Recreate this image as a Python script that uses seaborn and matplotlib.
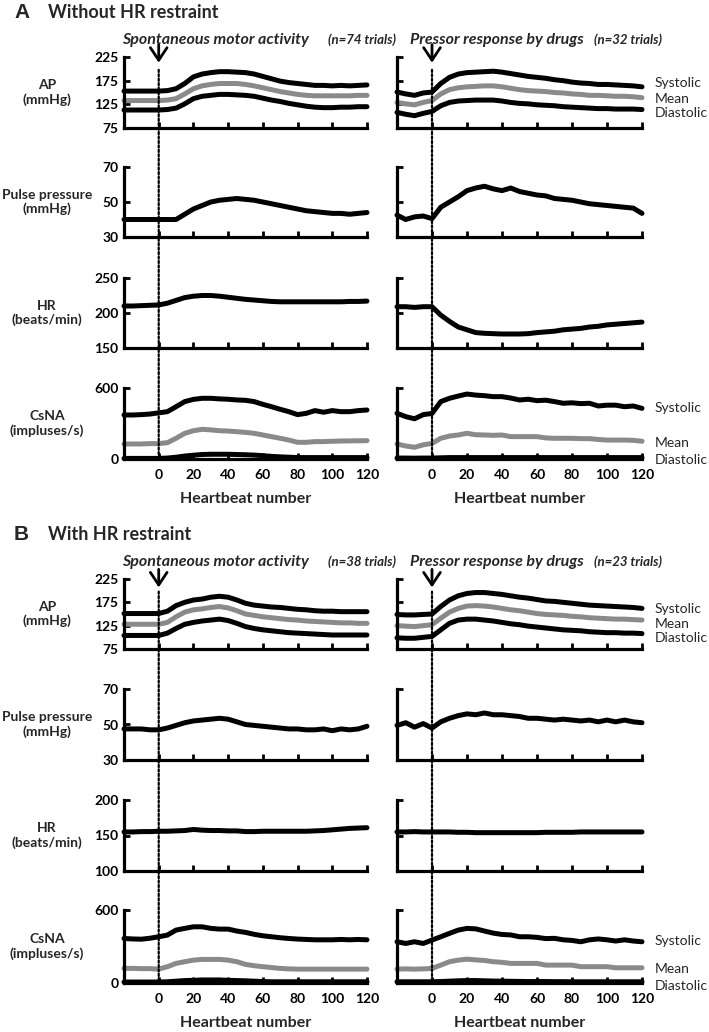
import numpy as np
import pandas as pd
import matplotlib.pyplot as plt
import seaborn as sns
from matplotlib.patches import ConnectionPatch

sns.set_style("white")
plt.rcParams['font.family'] = ['Lato', 'DejaVu Sans']

# heartbeat number (every 5 beats, -20 .. 120)
beats = list(range(-20, 121, 5))

# ---------- A: without HR restraint, spontaneous motor activity ----------
a_sma_ap_sys = [153, 153, 153, 153, 153, 154, 158, 169, 183, 189, 192, 194, 194, 193, 192, 189, 184, 179, 174, 171, 169, 167, 165, 165, 164, 165, 164, 165, 166]
a_sma_ap_mean = [133, 133, 133, 133, 133, 134, 137, 147, 158, 164, 167, 169, 169, 169, 167, 164, 160, 156, 152, 149, 146, 144, 143, 143, 143, 143, 143, 144, 144]
a_sma_ap_dia = [113, 113, 113, 113, 113, 114, 117, 126, 137, 142, 144, 146, 146, 145, 144, 142, 138, 134, 131, 127, 124, 121, 119, 118, 118, 119, 119, 120, 120]
a_sma_pp = [40, 40, 40, 40, 40, 40, 40, 43, 46, 48, 50, 51, 51.5, 52, 51.5, 51, 50, 49, 48, 47, 46, 45, 44.5, 44, 43.5, 43.5, 43, 43.5, 44]
a_sma_hr = [210, 210, 210.5, 211, 211.5, 214, 218, 222, 224, 225, 225, 224, 222.5, 221, 219.5, 218.5, 217.5, 216.5, 216, 216, 216, 216, 216, 216, 216, 216, 216.5, 216.5, 217]
a_sma_cs_sys = [372, 372, 375, 380, 390, 400, 442, 485, 504, 513, 513, 508, 505, 499, 496, 485, 462, 442, 420, 400, 375, 386, 409, 395, 409, 400, 400, 409, 414]
a_sma_cs_mean = [127, 127, 127, 130, 130, 138, 175, 217, 239, 251, 246, 239, 236, 231, 225, 217, 203, 189, 175, 160, 141, 141, 147, 147, 150, 152, 153, 154, 155]
a_sma_cs_dia = [5, 5, 5, 5, 5, 8, 15, 25, 32, 38, 40, 40, 40, 38, 36, 33, 28, 22, 18, 15, 12, 12, 12, 12, 12, 12, 12, 12, 12]

# ---------- A: without HR restraint, pressor response by drugs ----------
a_drug_ap_sys = [151, 147, 144, 149, 151, 169, 182, 189, 192, 193, 194, 195, 193, 190, 187, 184, 182, 180, 177, 175, 172, 170, 169, 167, 167, 166, 165, 164, 162]
a_drug_ap_mean = [129, 126, 124, 129, 133, 147, 156, 160, 162, 163, 164, 164, 162, 159, 156, 154, 153, 152, 150, 149, 147, 146, 144, 144, 143, 142, 142, 141, 139]
a_drug_ap_dia = [108, 104, 101, 106, 110, 122, 129, 132, 133, 134, 134, 134, 132, 129, 127, 126, 124, 123, 122, 120, 119, 118, 117, 116, 116, 115, 115, 115, 114]
a_drug_pp = [42.5, 40, 41.5, 42, 40.5, 47, 50, 53, 56.5, 58, 59, 57.5, 56.5, 58, 56, 55, 54, 53.5, 52, 51.5, 51, 50, 49, 48.5, 48, 47.5, 47, 46.5, 43.5]
a_drug_hr = [209, 209, 208, 209, 209, 197, 188, 180, 176, 172, 171, 170.5, 170, 170, 170, 170.5, 172, 173, 174, 176, 177, 178, 180, 181, 183, 184, 185, 186, 187]
a_drug_cs_sys = [386, 358, 340, 375, 385, 485, 513, 532, 549, 540, 535, 527, 527, 515, 499, 505, 493, 497, 485, 471, 475, 468, 471, 448, 455, 455, 442, 448, 428]
a_drug_cs_mean = [127, 110, 99, 120, 132, 175, 194, 203, 217, 205, 203, 200, 203, 189, 189, 189, 189, 178, 175, 175, 175, 172, 172, 165, 160, 160, 160, 158, 150]
a_drug_cs_dia = [8, 8, 7, 8, 8, 10, 12, 12, 12, 12, 12, 12, 12, 12, 12, 12, 12, 12, 12, 12, 12, 12, 12, 12, 12, 12, 12, 12, 12]

# ---------- B: with HR restraint, spontaneous motor activity ----------
b_sma_ap_sys = [151, 151, 151, 151, 151, 156, 168, 175, 180, 182, 186, 188, 186, 180, 173, 169, 167, 165, 164, 162, 160, 159, 157, 156, 156, 155, 155, 155, 155]
b_sma_ap_mean = [128, 128, 128, 128, 128, 132, 144, 154, 159, 161, 164, 166, 163, 157, 150, 147, 144, 142, 140, 138, 137, 135, 134, 133, 132, 131, 131, 130, 130]
b_sma_ap_dia = [104, 104, 104, 104, 104, 109, 119, 128, 132, 135, 137, 139, 136, 130, 123, 119, 116, 114, 112, 110, 109, 108, 107, 106, 105, 105, 105, 105, 105]
b_sma_pp = [47.5, 47.5, 47.5, 47, 47, 48, 49.5, 51, 52, 52.5, 53, 53.5, 53, 51.5, 50, 49.5, 49, 48.5, 48, 47.5, 47.5, 47, 47, 47.5, 46.5, 47.5, 47, 47.5, 49]
b_sma_hr = [155, 155, 155.5, 155.5, 156, 156, 156.5, 157, 158.5, 157.5, 157, 157, 156.5, 156.5, 155.5, 155.5, 156, 156, 156, 156, 156, 156, 156.5, 157, 158, 159, 160, 160.5, 161]
b_sma_cs_sys = [366, 362, 360, 368, 380, 394, 435, 449, 462, 462, 449, 443, 443, 427, 416, 400, 388, 380, 372, 366, 361, 358, 355, 355, 355, 358, 355, 358, 355]
b_sma_cs_mean = [120, 120, 118, 118, 114, 134, 161, 175, 188, 194, 194, 194, 188, 175, 153, 142, 134, 127, 120, 116, 114, 114, 114, 114, 114, 114, 114, 114, 114]
b_sma_cs_dia = [8, 8, 8, 8, 8, 10, 15, 20, 22, 25, 25, 25, 22, 20, 18, 15, 12, 10, 10, 10, 10, 10, 10, 10, 10, 10, 10, 10, 10]

# ---------- B: with HR restraint, pressor response by drugs ----------
b_drug_ap_sys = [149, 148, 148, 149, 150, 166, 180, 189, 194, 196, 196, 194, 192, 189, 186, 184, 181, 178, 177, 175, 173, 171, 169, 168, 167, 166, 165, 164, 162]
b_drug_ap_mean = [125, 124, 123, 125, 127, 141, 154, 162, 167, 168, 167, 165, 162, 159, 157, 154, 151, 149, 148, 147, 145, 144, 142, 141, 140, 139, 139, 138, 137]
b_drug_ap_dia = [99, 98, 98, 100, 102, 116, 130, 137, 139, 139, 137, 135, 132, 129, 127, 124, 122, 120, 118, 116, 115, 114, 112, 111, 110, 110, 109, 109, 108]
b_drug_pp = [49.5, 51, 48.5, 50.5, 48, 51.5, 53.5, 55, 56, 55.5, 56.5, 55.5, 55.5, 55, 54.5, 53.5, 53.5, 53, 52.5, 53, 52.5, 52, 52.5, 51.5, 52.5, 51.5, 52.5, 51.5, 51]
b_drug_hr = [155, 155, 155.5, 155, 155, 155, 155, 154.5, 154.5, 154, 154, 154, 154, 154, 154, 154, 154, 154.5, 154.5, 154.5, 154.5, 155, 155, 155, 155, 155, 155, 155, 155]
b_drug_cs_sys = [339, 325, 339, 325, 353, 380, 408, 435, 449, 445, 427, 410, 399, 395, 380, 380, 375, 365, 367, 355, 350, 339, 355, 362, 355, 345, 355, 345, 339]
b_drug_cs_mean = [114, 116, 114, 116, 120, 147, 175, 188, 196, 190, 185, 175, 170, 161, 161, 161, 161, 147, 147, 147, 147, 134, 134, 134, 134, 125, 125, 125, 125]
b_drug_cs_dia = [10, 10, 10, 10, 10, 12, 15, 18, 20, 20, 18, 16, 15, 14, 13, 12, 12, 12, 11, 11, 10, 10, 10, 10, 10, 10, 10, 10, 10]

xticks = [0, 20, 40, 60, 80, 100, 120]
row_names = ["AP\n(mmHg)", "Pulse pressure\n(mmHg)", "HR\n(beats/min)", "CsNA\n(impluses/s)"]
ap_ticks = [75, 125, 175, 225]
pp_ticks = [30, 50, 70]
hr_ticks_a = [150, 200, 250]
hr_ticks_b = [100, 150, 200]
cs_ticks = [0, 600]
bp_names = ["Systolic", "Mean", "Diastolic"]

BLACK = "black"
GREY = "#8a8a8a"

W, H = 709, 1032
fig = plt.figure(figsize=(W / 100, H / 100), dpi=100)


def rect(x0, y0, x1, y1):
    return [x0 / W, 1 - y1 / H, (x1 - x0) / W, (y1 - y0) / H]


def ptext(x, y, s, **kw):
    return fig.text(x / W, 1 - y / H, s, **kw)


cols = [(124, 367), (397, 642)]
rows_a = [(57, 128), (167, 237), (278, 348), (388, 459)]
rows_b = [(579, 649), (689, 760), (800, 871), (910, 983)]


def draw_lines(ax, series):
    for vals, color in series:
        sns.lineplot(x=beats, y=vals, ax=ax, color=color, lw=3.6,
                     solid_capstyle="round", clip_on=False)


def style_ax(ax, yticks, show_y, show_x):
    ax.set_xlim(-20, 120)
    ax.set_ylim(yticks[0], yticks[-1])
    ax.set_xticks(xticks)
    ax.set_yticks(yticks)
    sns.despine(ax=ax)
    for s in ["left", "bottom"]:
        ax.spines[s].set_linewidth(2.3)
        ax.spines[s].set_color("black")
    ax.tick_params(axis="both", direction="in", length=4, width=2,
                   colors="black", left=True, bottom=True)
    ax.tick_params(axis="y", labelsize=10, pad=4)
    ax.tick_params(axis="x", labelsize=10, pad=7)
    if show_y:
        ax.set_yticklabels([str(t) for t in yticks], fontweight="bold")
    else:
        ax.set_yticklabels([])
    if show_x:
        ax.set_xticklabels([str(t) for t in xticks], fontweight="bold")
        ax.set_xlabel("Heartbeat number", fontsize=11.5, fontweight="bold", labelpad=8)
    else:
        ax.set_xticklabels([])
    ax.set_ylabel("")


def build_block(rows, hr_ticks, data, arrow_y):
    ticks = [ap_ticks, pp_ticks, hr_ticks, cs_ticks]
    for ci, (x0, x1) in enumerate(cols):
        d = data[ci]
        axes = []
        for ri, (y0, y1) in enumerate(rows):
            ax = fig.add_axes(rect(x0, y0, x1, y1))
            ax.patch.set_alpha(0)
            if ri == 0:
                draw_lines(ax, [(d["ap"][0], BLACK), (d["ap"][1], GREY), (d["ap"][2], BLACK)])
            elif ri == 1:
                draw_lines(ax, [(d["pp"], BLACK)])
            elif ri == 2:
                draw_lines(ax, [(d["hr"], BLACK)])
            else:
                draw_lines(ax, [(d["cs"][2], BLACK), (d["cs"][0], BLACK), (d["cs"][1], GREY)])
            style_ax(ax, ticks[ri], ci == 0, ri == 3)
            axes.append(ax)
        # onset arrow and dotted marker at heartbeat 0
        axes[0].annotate("", xy=(0, arrow_y), xytext=(0, 13), textcoords="offset points",
                         annotation_clip=False,
                         arrowprops=dict(arrowstyle="->,head_length=0.45,head_width=0.3",
                                         color="black", lw=2, mutation_scale=20,
                                         shrinkA=0, shrinkB=0))
        con = ConnectionPatch(xyA=(0, 198), coordsA=axes[0].transData,
                              xyB=(0, 0), coordsB=axes[3].transData,
                              color="black", lw=1.6, linestyle=(0, (1, 1)))
        fig.add_artist(con)
    for ri, (y0, y1) in enumerate(rows):
        ptext(47, (y0 + y1) / 2, row_names[ri], ha="center", va="center",
              fontsize=10, fontweight="bold", linespacing=1.2)


data_a = [
    {"ap": [a_sma_ap_sys, a_sma_ap_mean, a_sma_ap_dia], "pp": a_sma_pp, "hr": a_sma_hr,
     "cs": [a_sma_cs_sys, a_sma_cs_mean, a_sma_cs_dia]},
    {"ap": [a_drug_ap_sys, a_drug_ap_mean, a_drug_ap_dia], "pp": a_drug_pp, "hr": a_drug_hr,
     "cs": [a_drug_cs_sys, a_drug_cs_mean, a_drug_cs_dia]},
]
data_b = [
    {"ap": [b_sma_ap_sys, b_sma_ap_mean, b_sma_ap_dia], "pp": b_sma_pp, "hr": b_sma_hr,
     "cs": [b_sma_cs_sys, b_sma_cs_mean, b_sma_cs_dia]},
    {"ap": [b_drug_ap_sys, b_drug_ap_mean, b_drug_ap_dia], "pp": b_drug_pp, "hr": b_drug_hr,
     "cs": [b_drug_cs_sys, b_drug_cs_mean, b_drug_cs_dia]},
]

build_block(rows_a, hr_ticks_a, data_a, 213)
build_block(rows_b, hr_ticks_b, data_b, 207)

# panel titles
for y, letter, title in [(12, "A", "Without HR restraint"), (534, "B", "With HR restraint")]:
    ptext(14, y, letter, ha="left", va="center", fontsize=15, fontweight="bold",
          family=["Liberation Sans", "DejaVu Sans"])
    ptext(48, y, title, ha="left", va="center", fontsize=13, fontweight="bold")

# condition subtitles
for y, n_sma, n_drug in [(40, 74, 32), (562, 38, 23)]:
    ptext(122, y, "Spontaneous motor activity", ha="left", va="center",
          fontsize=11.5, fontweight="bold", style="italic")
    ptext(328, y, f"(n={n_sma} trials)", ha="left", va="center",
          fontsize=9.5, fontweight="bold", style="italic")
    ptext(410, y, "Pressor response by drugs", ha="left", va="center",
          fontsize=11.5, fontweight="bold", style="italic")
    ptext(594, y, f"(n={n_drug} trials)", ha="left", va="center",
          fontsize=9.5, fontweight="bold", style="italic")

# series names next to the right-hand panels
for ys in [(83, 99, 113), (408, 443, 460), (609, 624, 638), (941, 969, 986)]:
    for y, name in zip(ys, bp_names):
        ptext(655, y, name, ha="left", va="center", fontsize=10)

fig.savefig("out.png", dpi=100)
